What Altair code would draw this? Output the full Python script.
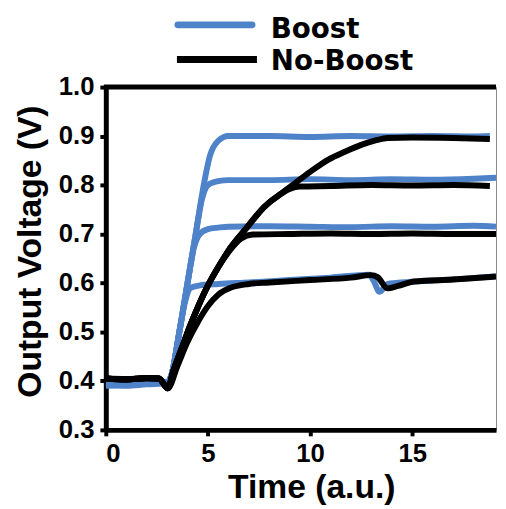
import altair as alt
import pandas as pd

FONT = "Liberation Sans"
LEG_FONT = "DejaVu Sans"
BLUE = "#4f83c9"
BLACK = "#000000"

SERIES = ["Boost", "No-Boost"]

# ---- Boost curves (blue) ----
boost_t_090 = [0, 1, 2, 3.0, 3.2, 3.6, 4.0, 4.4, 4.75, 5.1, 5.5, 6.0, 8, 10, 12, 14, 16, 18, 18.8]
boost_v_090 = [0.395, 0.393, 0.396, 0.398, 0.41, 0.5, 0.6, 0.7, 0.79, 0.86, 0.89, 0.9, 0.9, 0.898, 0.9, 0.899, 0.9, 0.899, 0.9]

boost_t_081 = [0, 1, 2, 3.0, 3.2, 3.6, 4.0, 4.4, 4.7, 5.0, 5.5, 6, 8, 10, 12, 14, 16, 18, 19.1]
boost_v_081 = [0.39, 0.392, 0.395, 0.397, 0.41, 0.5, 0.6, 0.7, 0.77, 0.8, 0.808, 0.81, 0.81, 0.812, 0.81, 0.812, 0.811, 0.813, 0.815]

boost_t_072 = [0, 1, 2, 3.0, 3.2, 3.6, 4.0, 4.3, 4.6, 5.0, 5.5, 6, 8, 10, 12, 14, 16, 18, 19.1]
boost_v_072 = [0.395, 0.392, 0.395, 0.397, 0.41, 0.5, 0.6, 0.67, 0.7, 0.71, 0.713, 0.715, 0.716, 0.715, 0.714, 0.716, 0.715, 0.717, 0.715]

boost_t_060 = [0, 1, 2, 3.0, 3.2, 3.6, 3.9, 4.15, 4.6, 5.5, 7, 9, 11, 12.9, 13.1, 13.4, 13.8, 14.2, 16, 18, 19.1]
boost_v_060 = [0.392, 0.39, 0.393, 0.395, 0.41, 0.5, 0.565, 0.59, 0.595, 0.598, 0.601, 0.606, 0.611, 0.617, 0.605, 0.582, 0.598, 0.6, 0.605, 0.61, 0.614]

# ---- No-Boost curves (black) ----
noboost_t_090 = [0, 1, 2, 2.6, 3.04, 3.3, 3.7, 4.1, 4.5, 5.0, 5.5, 6.1, 6.9, 7.7, 8.5, 9.3, 10.1, 10.9, 11.7, 12.5, 13.2, 13.8, 15, 17, 18.8]
noboost_v_090 = [0.405, 0.403, 0.406, 0.405, 0.385, 0.42, 0.465, 0.51, 0.55, 0.595, 0.632, 0.672, 0.713, 0.753, 0.78, 0.805, 0.83, 0.852, 0.868, 0.882, 0.891, 0.896, 0.897, 0.896, 0.894]

noboost_t_080 = [0, 1, 2, 2.6, 3.04, 3.3, 3.7, 4.1, 4.5, 5.0, 5.5, 6.1, 6.9, 7.7, 8.5, 9.0, 9.5, 11, 13, 15, 17, 18.8]
noboost_v_080 = [0.405, 0.403, 0.406, 0.405, 0.385, 0.42, 0.465, 0.51, 0.55, 0.595, 0.632, 0.672, 0.713, 0.753, 0.78, 0.792, 0.797, 0.798, 0.8, 0.799, 0.8, 0.798]

noboost_t_070 = [0, 1, 2, 2.6, 3.04, 3.3, 3.7, 4.1, 4.5, 5.0, 5.5, 6.1, 6.6, 7.2, 9, 11, 13, 15, 17, 19.1]
noboost_v_070 = [0.405, 0.403, 0.406, 0.405, 0.385, 0.42, 0.465, 0.51, 0.55, 0.595, 0.632, 0.668, 0.69, 0.699, 0.7, 0.701, 0.7, 0.701, 0.7, 0.7]

noboost_t_060 = [0, 1, 2, 2.6, 3.04, 3.5, 4.0, 4.5, 5.0, 5.5, 6.1, 7.0, 8, 10, 12, 13.0, 13.3, 13.8, 14.3, 15.1, 17, 19.1]
noboost_v_060 = [0.405, 0.404, 0.405, 0.405, 0.385, 0.43, 0.48, 0.52, 0.553, 0.576, 0.59, 0.598, 0.601, 0.606, 0.611, 0.616, 0.612, 0.589, 0.594, 0.603, 0.607, 0.613]

x_ticks = [0, 5, 10, 15]
y_ticks = [0.3, 0.4, 0.5, 0.6, 0.7, 0.8, 0.9, 1.0]

curves = [
    ("Boost", "b090", boost_t_090, boost_v_090),
    ("Boost", "b081", boost_t_081, boost_v_081),
    ("Boost", "b072", boost_t_072, boost_v_072),
    ("Boost", "b060", boost_t_060, boost_v_060),
    ("No-Boost", "n090", noboost_t_090, noboost_v_090),
    ("No-Boost", "n080", noboost_t_080, noboost_v_080),
    ("No-Boost", "n070", noboost_t_070, noboost_v_070),
    ("No-Boost", "n060", noboost_t_060, noboost_v_060),
]
rows = []
for s, c, ts, vs in curves:
    for t, v in zip(ts, vs):
        rows.append({"series": s, "curve": c, "t": t, "v": v})
df = pd.DataFrame(rows)
one = pd.DataFrame({"k": [0]})

W, H = 395, 347

xenc = alt.X("t:Q", scale=alt.Scale(domain=[0, 19.1], nice=False),
             axis=alt.Axis(values=x_ticks, format="d", title="Time (a.u.)", titleX=208))
yenc = alt.Y("v:Q", scale=alt.Scale(domain=[0.3, 1.0], nice=False, zero=False),
             axis=alt.Axis(values=y_ticks, format=".1f", title="Output Voltage (V)", titleY=166))

def layer_for(series, color):
    return alt.Chart(df[df.series == series]).mark_line(
        color=color, strokeWidth=6, interpolate="monotone", clip=True
    ).encode(x=xenc, y=yenc, detail="curve:N")

blue = layer_for("Boost", BLUE)
black = layer_for("No-Boost", BLACK)

top_border = alt.Chart(one).mark_rule(color="black", strokeWidth=5).encode(
    x=alt.value(-2), x2=alt.value(W), y=alt.value(0))

leg_line_b = alt.Chart(one).mark_rule(color=BLUE, strokeWidth=7, strokeCap="round").encode(
    x=alt.value(73), x2=alt.value(148), y=alt.value(-63))
leg_line_k = alt.Chart(one).mark_rule(color=BLACK, strokeWidth=7).encode(
    x=alt.value(72), x2=alt.value(153), y=alt.value(-28))
leg_text_b = alt.Chart(one).mark_text(align="left", baseline="alphabetic", font=LEG_FONT,
                                      fontSize=28, fontWeight="bold", color="black").encode(
    x=alt.value(167), y=alt.value(-50), text=alt.value(SERIES[0]))
leg_text_k = alt.Chart(one).mark_text(align="left", baseline="alphabetic", font=LEG_FONT,
                                      fontSize=28, fontWeight="bold", color="black").encode(
    x=alt.value(167), y=alt.value(-17), text=alt.value(SERIES[1]))

chart = alt.layer(blue, black, top_border, leg_line_b, leg_line_k, leg_text_b, leg_text_k).properties(
    width=W, height=H,
    autosize=alt.AutoSizeParams(type="none"),
    padding={"left": 99, "top": 77, "right": 2, "bottom": 76},
).configure_view(
    stroke="#888888", strokeWidth=1
).configure_axis(
    grid=False,
    domainColor="black", domainWidth=5,
    tickColor="black", tickWidth=4, tickSize=6,
    labelFont=FONT, labelFontSize=26, labelFontWeight="bold", labelColor="black",
    titleFont=FONT, titleFontSize=34, titleFontWeight="bold", titleColor="black",
).configure_axisX(
    labelPadding=5, titlePadding=4
).configure_axisY(
    labelPadding=6, titlePadding=11
)

chart.save("out.html", embed_options={"renderer": "svg", "actions": False})
